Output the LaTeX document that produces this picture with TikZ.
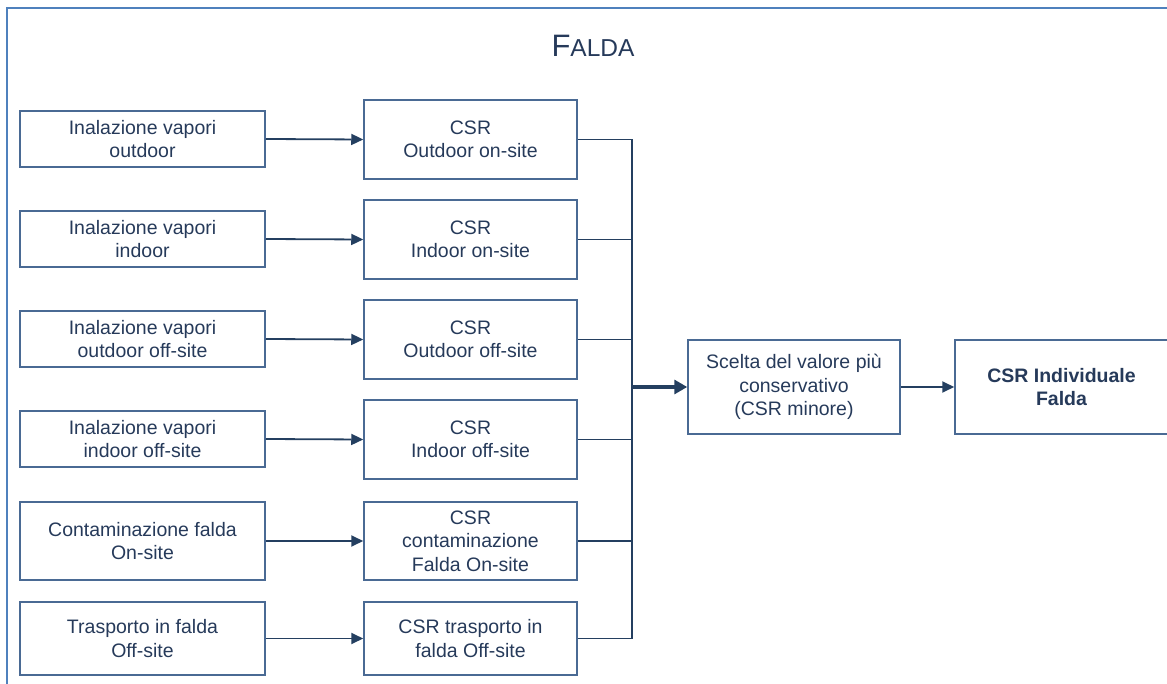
\documentclass[tikz,border=0pt]{standalone}
\usepackage{fontspec}
\setmainfont{Liberation Sans}
\usetikzlibrary{arrows.meta}
\definecolor{framec}{HTML}{4F81BD}
\definecolor{boxc}{HTML}{4A6A94}
\definecolor{linec}{HTML}{243F60}
\definecolor{textc}{HTML}{263A5A}
\begin{document}
\begin{tikzpicture}[x=1pt,y=-1pt,
  box/.style={draw=boxc, line width=1.5pt, rectangle, inner sep=0pt, align=center,
    text=textc, font=\fontsize{19.5}{23.5}\selectfont},
  lbox/.style={box, minimum width=245pt},
  mbox/.style={box, minimum width=213pt},
  conn/.style={draw=linec, line width=1.8pt},
  arr/.style={conn, -{Triangle[length=12pt,width=11pt]}},
  thickarr/.style={draw=linec, line width=3.2pt, -{Triangle[length=13pt,width=14pt]}}
]
\useasboundingbox (0,0) rectangle (1167,684);
% frame
\draw[framec, line width=2.5pt] (7,8) rectangle (1190,710);
% title
\node[anchor=base, text=textc, inner sep=0pt] (title) at (593,57)
  {\fontsize{31}{31}\selectfont F\fontsize{24.5}{24.5}\selectfont ALDA};

% left boxes
\node[lbox, minimum height=56pt] (l1) at (142.5,139) {Inalazione vapori\\outdoor};
\node[lbox, minimum height=56pt] (l2) at (142.5,239) {Inalazione vapori\\indoor};
\node[lbox, minimum height=56pt] (l3) at (142.5,339) {Inalazione vapori\\outdoor off-site};
\node[lbox, minimum height=56pt] (l4) at (142.5,439) {Inalazione vapori\\indoor off-site};
\node[lbox, minimum height=78pt] (l5) at (142.5,541) {Contaminazione falda\\On-site};
\node[lbox, minimum height=73pt] (l6) at (142.5,638.5) {Trasporto in falda\\Off-site};

% middle boxes
\node[mbox, minimum height=79pt] (m1) at (470.5,139.5) {CSR\\Outdoor on-site};
\node[mbox, minimum height=79pt] (m2) at (470.5,239.5) {CSR\\Indoor on-site};
\node[mbox, minimum height=79pt] (m3) at (470.5,339.5) {CSR\\Outdoor off-site};
\node[mbox, minimum height=79pt] (m4) at (470.5,439.5) {CSR\\Indoor off-site};
\node[mbox, minimum height=78pt] (m5) at (470.5,541) {CSR\\contaminazione\\Falda On-site};
\node[mbox, minimum height=73pt] (m6) at (470.5,638.5) {CSR trasporto in\\falda Off-site};

% right boxes
\node[box, minimum width=212pt, minimum height=94pt] (sc) at (794,387)
  {Scelta del valore più\\conservativo\\(CSR minore)};
\node[box, minimum width=213pt, minimum height=94pt, font=\fontsize{19.5}{23.5}\selectfont\bfseries] (ind) at (1061.5,387)
  {CSR Individuale\\Falda};

% arrows left -> middle
\foreach \i in {1,...,6} {
  \draw[arr] (l\i.east) -- (m\i.west);
}
% bus
\coordinate (bus) at (632,387);
\foreach \i in {1,...,6} {
  \draw[conn] (m\i.east) -- (m\i.east -| bus);
}
\draw[conn] (m1.east -| bus) -- (m6.east -| bus);
\draw[thickarr] (bus) -- (sc.west);
\draw[arr] (sc.east) -- (ind.west);
\end{tikzpicture}
\end{document}
